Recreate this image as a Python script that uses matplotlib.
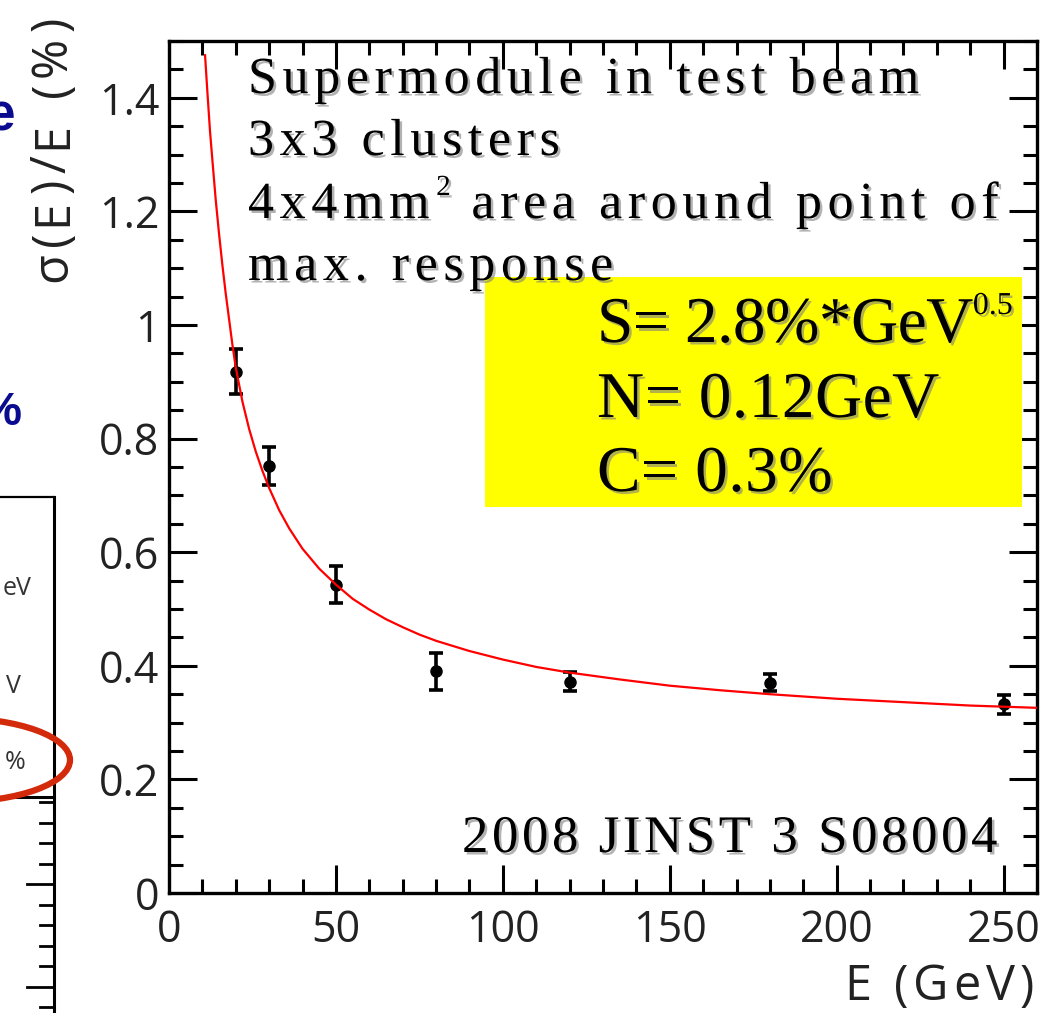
import matplotlib
matplotlib.use('Agg')
import matplotlib.pyplot as plt
import matplotlib.patheffects as pe
from matplotlib.patches import Rectangle, Ellipse
from matplotlib.font_manager import FontProperties
from matplotlib.textpath import TextToPath
from matplotlib.ticker import MultipleLocator, FixedLocator, FixedFormatter

# measured points (test beam)
energy = [20, 30, 50, 80, 120, 180, 250]
resolution = [0.918, 0.752, 0.543, 0.390, 0.372, 0.370, 0.332]
res_err = [0.040, 0.033, 0.032, 0.033, 0.017, 0.015, 0.017]

# fitted curve
fit_e = [10.8, 11.5, 12.3, 13, 14, 15, 16, 17, 18, 19, 20, 22, 24, 26, 28, 30,
         33, 36, 40, 45, 50, 55, 60, 65, 70, 75, 80, 90, 100, 110, 120, 135,
         150, 165, 180, 200, 220, 240, 260]
fit_res = [1.475, 1.41, 1.34, 1.29, 1.22, 1.16, 1.105, 1.055, 1.01, 0.965, 0.925,
           0.865, 0.817, 0.777, 0.743, 0.713, 0.674, 0.642, 0.606, 0.571, 0.543,
           0.518, 0.499, 0.482, 0.468, 0.455, 0.444, 0.426, 0.411, 0.398, 0.388,
           0.376, 0.365, 0.357, 0.350, 0.342, 0.336, 0.330, 0.326]

xticks = [0, 50, 100, 150, 200, 250]
xtick_labels = ['0', '50', '100', '150', '200', '250']
yticks = [0, 0.2, 0.4, 0.6, 0.8, 1.0, 1.2, 1.4]
ytick_labels = ['0', '0.2', '0.4', '0.6', '0.8', '1', '1.2', '1.4']

W, H, DPI = 1047, 1013, 100
fig = plt.figure(figsize=(W / DPI, H / DPI), dpi=DPI)
ax = fig.add_axes([169 / W, (H - 893) / H, (1037 - 169) / W, (893 - 41) / H])

ax.errorbar(energy, resolution, yerr=res_err, fmt='o', color='black', ms=8,
            elinewidth=2.6, capsize=5, capthick=2.6, zorder=2)
ax.plot(fit_e, fit_res, color='red', lw=1.6, zorder=3)

ax.set_xlim(0, 260)
ax.set_ylim(0, 1.5)
ax.xaxis.set_major_locator(FixedLocator(xticks))
ax.xaxis.set_major_formatter(FixedFormatter(xtick_labels))
ax.yaxis.set_major_locator(FixedLocator(yticks))
ax.yaxis.set_major_formatter(FixedFormatter(ytick_labels))
ax.xaxis.set_minor_locator(MultipleLocator(10))
ax.yaxis.set_minor_locator(MultipleLocator(0.05))
ax.tick_params(which='both', direction='in', top=True, right=True, width=2.2, color='black')
ax.tick_params(which='major', length=20)
ax.tick_params(which='minor', length=10)
ax.tick_params(axis='x', pad=11, labelsize=31, labelfontfamily='Open Sans', labelcolor='#222222')
ax.tick_params(axis='y', pad=7, labelsize=31, labelfontfamily='Open Sans', labelcolor='#222222')
for sp in ax.spines.values():
    sp.set_linewidth(2.4)

# text with letter spacing, positions in figure pixels (y from the top)
ttp = TextToPath()


def advance(ch, fp):
    a = ttp.get_text_width_height_descent('|' + ch + '|', fp, ismath=False)[0]
    b = ttp.get_text_width_height_descent('||', fp, ismath=False)[0]
    return (a - b) * DPI / 72


def tracked(x, y, s, fp, track, rot=0, ha='left', effects=None, color='black'):
    steps = [advance(c, fp) + track for c in s]
    if ha == 'right':
        total = sum(steps) - track
        if rot:
            y += total
        else:
            x -= total
    for c, st in zip(s, steps):
        if c != ' ':
            fig.text(x / W, 1 - y / H, c, fontproperties=fp, ha='left', va='baseline',
                     rotation=rot, rotation_mode='anchor', color=color,
                     path_effects=effects, zorder=5)
        if rot:
            y -= st
        else:
            x += st
    return x, y


shadow = [pe.withSimplePatchShadow(offset=(1.8, -1.8), shadow_rgbFace='0.5', alpha=0.6)]
serif = FontProperties(family='Liberation Serif', size=37.5)
serif_sup = FontProperties(family='Liberation Serif', size=21)

tracked(248, 93, 'Supermodule in test beam', serif, 5.6, effects=shadow)
tracked(248, 155, '3x3 clusters', serif, 5.6, effects=shadow)
x, _ = tracked(248, 218, '4x4mm', serif, 5.6, effects=shadow)
x, _ = tracked(x + 1, 195, '2', serif_sup, 0, effects=shadow)
tracked(x + 2, 218, ' area around point of', serif, 5.6, effects=shadow)
tracked(248, 280, 'max. response', serif, 5.6, effects=shadow)

# yellow box with fit parameters
fig.add_artist(Rectangle((485 / W, 1 - 507 / H), (1022 - 485) / W, (507 - 277) / H,
                         transform=fig.transFigure, facecolor='#ffff00', edgecolor='none', zorder=4))
big = FontProperties(family='Liberation Serif', size=47)
big_sup = FontProperties(family='Liberation Serif', size=23)
x, _ = tracked(597, 342, 'S= 2.8%*GeV', big, -0.5, effects=shadow)
tracked(x, 314, '0.5', big_sup, 0, effects=shadow)
tracked(597, 417, 'N= 0.12GeV', big, 0.5, effects=shadow)
tracked(597, 491, 'C= 0.3%', big, 0.5, effects=shadow)

ref = FontProperties(family='Liberation Serif', size=38)
tracked(462, 852, '2008 JINST 3 S08004', ref, 3.6, effects=shadow)

# axis titles
lab = FontProperties(family='Open Sans', size=35)
tracked(66, 282, 'σ(E)/E (%)', lab, 6, rot=90, color='#222222')
tracked(1034, 1000, 'E (GeV)', lab, 5, ha='right', color='#222222')

# pieces of the neighbouring slide content on the left edge
blue = '#0b0b8f'
fig.text(15 / W, 1 - 130 / H, 'e', family='Liberation Sans', weight='bold', size=37,
         color=blue, ha='right', va='baseline')
fig.text(22 / W, 1 - 425 / H, '%', family='Liberation Sans', weight='bold', size=34,
         color=blue, ha='right', va='baseline')
fig.add_artist(plt.Line2D([0, 54 / W], [1 - 497 / H, 1 - 497 / H], transform=fig.transFigure,
                          color='black', lw=1.6))
fig.add_artist(plt.Line2D([54 / W, 54 / W], [0, 1 - 497 / H], transform=fig.transFigure,
                          color='black', lw=2.2))
fig.add_artist(plt.Line2D([0, 54 / W], [1 - 797 / H, 1 - 797 / H], transform=fig.transFigure,
                          color='black', lw=2.2))
for i in range(11):
    ty = 802 + i * 20.5
    ln = 27 if i in (4, 9) else 14
    fig.add_artist(plt.Line2D([(54 - ln) / W, 54 / W], [1 - ty / H, 1 - ty / H],
                              transform=fig.transFigure, color='black', lw=2.0))
small = FontProperties(family='Open Sans', size=18)
fig.text(32 / W, 1 - 595 / H, 'eV', fontproperties=small, color='#333333', ha='right', va='baseline')
fig.text(21 / W, 1 - 693 / H, 'V', fontproperties=small, color='#333333', ha='right', va='baseline')
fig.text(26 / W, 1 - 769 / H, '%', fontproperties=small, color='#333333', ha='right', va='baseline')
fig.add_artist(Ellipse((-45 / W, 1 - 760 / H), 230 / W, 84 / H, transform=fig.transFigure,
                       facecolor='none', edgecolor='#d42a0c', lw=4.5, zorder=6))

fig.savefig('out.png', dpi=DPI)
